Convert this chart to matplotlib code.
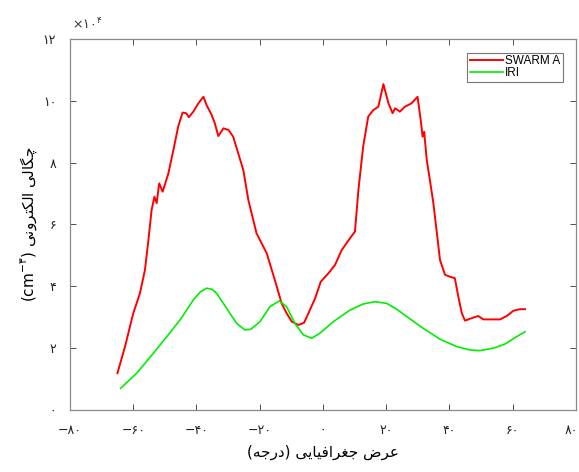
#!/usr/bin/env python3
"""
Electron density vs latitude: SWARM A against IRI (Persian labels)
"""

import matplotlib
matplotlib.use("Agg")
import matplotlib.pyplot as plt
import matplotlib.transforms as mtransforms

# latitude (deg) and electron density (x 1e4 cm^-3)
swarm_lat = [-65.0, -62.6, -60.0, -57.9, -57.1, -56.3, -55.2, -54.2, -53.3, -52.6,
             -51.8, -50.7, -48.9, -47.3, -45.8, -44.4, -43.3, -42.4, -41.0, -39.4,
             -37.8, -36.8, -35.2, -34.2, -33.1, -31.5, -29.9, -28.4, -26.8, -25.2,
             -23.6, -21.8, -21.0, -17.8, -16.2, -14.6, -13.1, -11.5, -9.9, -7.8,
             -6.0, -4.6, -2.5, -0.7, 1.7, 3.8, 5.9, 8.5, 10.1, 11.2,
             12.7, 14.3, 15.9, 17.5, 19.1, 20.7, 22.0, 22.8, 24.3, 25.9,
             28.0, 29.9, 30.9, 31.5, 32.0, 32.8, 33.8, 34.9, 35.9, 37.0,
             38.6, 40.2, 41.7, 42.8, 43.9, 44.9, 47.0, 49.1, 50.7, 56.0,
             58.1, 60.2, 62.3, 63.9]
swarm_ne = [1.19, 2.05, 3.13, 3.77, 4.15, 4.53, 5.50, 6.47, 6.90, 6.69,
            7.33, 7.06, 7.65, 8.41, 9.16, 9.62, 9.60, 9.47, 9.65, 9.92,
            10.13, 9.86, 9.54, 9.27, 8.86, 9.11, 9.06, 8.84, 8.30, 7.76,
            6.79, 6.04, 5.71, 5.07, 4.53, 3.99, 3.45, 3.13, 2.86, 2.75,
            2.82, 3.13, 3.61, 4.15, 4.42, 4.69, 5.17, 5.55, 5.77, 7.12,
            8.52, 9.49, 9.70, 9.81, 10.54, 9.92, 9.60, 9.76, 9.65, 9.81,
            9.92, 10.13, 9.38, 8.84, 9.00, 8.09, 7.44, 6.69, 5.82, 4.85,
            4.37, 4.31, 4.26, 3.66, 3.13, 2.89, 2.97, 3.04, 2.93, 2.93,
            3.04, 3.21, 3.26, 3.26]

iri_lat = [-64.0, -58.9, -53.7, -49.4, -45.2, -41.0, -38.8, -36.8, -35.0, -33.6,
           -30.5, -27.3, -24.7, -22.8, -19.9, -16.8, -13.8, -11.5, -8.9, -6.2,
           -3.6, -1.0, 3.3, 8.5, 12.7, 16.4, 20.1, 23.0, 26.5, 31.7,
           37.0, 42.3, 46.5, 49.6, 53.9, 57.5, 61.2, 63.9]
iri_ne = [0.70, 1.19, 1.83, 2.37, 2.91, 3.56, 3.82, 3.94, 3.90, 3.77,
          3.29, 2.80, 2.59, 2.61, 2.86, 3.34, 3.53, 3.34, 2.80, 2.43,
          2.32, 2.48, 2.86, 3.23, 3.43, 3.50, 3.45, 3.28, 3.02, 2.64,
          2.29, 2.05, 1.94, 1.92, 2.00, 2.13, 2.37, 2.53]

x_ticks = [-80, -60, -40, -20, 0, 20, 40, 60, 80]
y_ticks = [0, 2, 4, 6, 8, 10, 12]

FA_DIGITS = str.maketrans("0123456789-", "۰۱۲۳۴۵۶۷۸۹\u2212")

# presentation forms: isolated, final, initial, medial (None = no left join)
FORMS = {
    "ع": ("\uFEC9", "\uFECA", "\uFECB", "\uFECC"),
    "ر": ("\uFEAD", "\uFEAE", None, None),
    "ض": ("\uFEBD", "\uFEBE", "\uFEBF", "\uFEC0"),
    "ج": ("\uFE9D", "\uFE9E", "\uFE9F", "\uFEA0"),
    "غ": ("\uFECD", "\uFECE", "\uFECF", "\uFED0"),
    "ا": ("\uFE8D", "\uFE8E", None, None),
    "ف": ("\uFED1", "\uFED2", "\uFED3", "\uFED4"),
    "ی": ("\uFBFC", "\uFBFD", "\uFBFE", "\uFBFF"),
    "د": ("\uFEA9", "\uFEAA", None, None),
    "ه": ("\uFEE9", "\uFEEA", "\uFEEB", "\uFEEC"),
    "چ": ("\uFB7A", "\uFB7B", "\uFB7C", "\uFB7D"),
    "گ": ("\uFB92", "\uFB93", "\uFB94", "\uFB95"),
    "ل": ("\uFEDD", "\uFEDE", "\uFEDF", "\uFEE0"),
    "ک": ("\uFB8E", "\uFB8F", "\uFB90", "\uFB91"),
    "ت": ("\uFE95", "\uFE96", "\uFE97", "\uFE98"),
    "و": ("\uFEED", "\uFEEE", None, None),
    "ن": ("\uFEE5", "\uFEE6", "\uFEE7", "\uFEE8"),
}


def rtl(text):
    """Shape Persian letters and return them in visual (left-to-right) order"""
    out = []
    for i, ch in enumerate(text):
        if ch not in FORMS:
            out.append(ch)
            continue
        prev = text[i - 1] if i > 0 else ""
        nxt = text[i + 1] if i < len(text) - 1 else ""
        join_prev = prev in FORMS and FORMS[prev][2] is not None
        join_next = FORMS[ch][2] is not None and nxt in FORMS
        iso, fin, ini, med = FORMS[ch]
        if join_prev and join_next:
            out.append(med)
        elif join_prev:
            out.append(fin)
        elif join_next:
            out.append(ini)
        else:
            out.append(iso)
    vis = "".join(reversed(out))
    return vis.translate(str.maketrans("()", ")("))


plt.rcParams['font.family'] = ['DejaVu Sans']
plt.rcParams['mathtext.fontset'] = 'dejavusans'

fig = plt.figure(figsize=(5.79, 4.72), dpi=100)
ax = fig.add_axes([0.1209, 0.1314, 0.8739, 0.786])

ax.plot(swarm_lat, swarm_ne, color='#ff0000', linewidth=1.4, label='SWARM A')
ax.plot(iri_lat, iri_ne, color='#00ee00', linewidth=1.2, label='IRI')

ax.set_xlim(-80, 80)
ax.set_ylim(0, 12)
ax.set_xticks(x_ticks)
ax.set_yticks(y_ticks)
ax.set_xticklabels([str(t).translate(FA_DIGITS) for t in x_ticks], fontsize=9)
ax.set_yticklabels([str(t).translate(FA_DIGITS) for t in y_ticks], fontsize=9)

ax.tick_params(direction='in', length=4, width=0.6, color='#333333',
               top=True, right=True, pad=10, labelcolor='#222222')
for s in ax.spines.values():
    s.set_color('#8a8a8a')
    s.set_linewidth(0.9)

# keep the last x label inside the figure
last = ax.get_xticklabels()[-1]
last.set_transform(last.get_transform() +
                   mtransforms.ScaledTranslation(-5 / 100, 0, fig.dpi_scale_trans))

ax.set_xlabel(rtl("عرض جغرافیایی (درجه)"), fontsize=11, labelpad=6)
ax.set_ylabel("(cm$^{-۳}$) " + rtl("چگالی الکترونی"), fontsize=11, labelpad=3)

fig.text(72 / 579, 1 - 30 / 472, r"$\times$۱۰$^{۴}$", fontsize=9, color='#333333')

leg = ax.legend(loc='upper right', bbox_to_anchor=(0.974, 0.962),
                prop={'family': 'Liberation Sans', 'size': 8.5},
                frameon=True, fancybox=False, handlelength=2.8,
                borderpad=0.2, labelspacing=0.0, handletextpad=0.2,
                borderaxespad=0)
leg.get_frame().set_edgecolor('#555555')
leg.get_frame().set_linewidth(0.8)

plt.savefig("out.png", dpi=100)
plt.close()
